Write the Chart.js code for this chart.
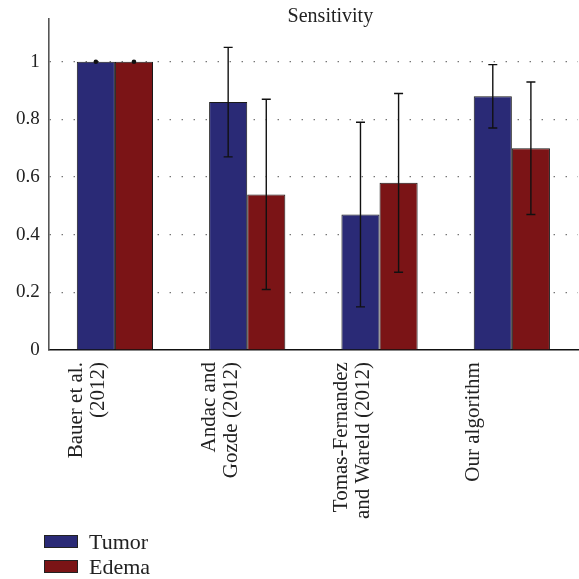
<!DOCTYPE html>
<html>
<head>
<meta charset="utf-8">
<script src="https://cdn.jsdelivr.net/npm/chart.js@4/dist/chart.umd.min.js"></script>
<style>
  html, body { margin: 0; padding: 0; background: #fff; }
  #wrap { position: relative; width: 579px; height: 579px; }
  #legend { position: absolute; left: 44px; top: 529px; font-family: "Liberation Serif", serif; font-size: 22px; color: #222; }
  #legend div { display: flex; align-items: center; height: 25px; }
  #legend span.box { display: inline-block; width: 32px; height: 11px; border: 1px solid #222; margin-right: 11px; }
</style>
</head>
<body>
<div id="wrap">
  <canvas id="chart" width="579" height="579"></canvas>
  <div id="legend"></div>
</div>
<script>
// data
const categories = [
  ['Bauer et al.', '(2012)'],
  ['Andac and', 'Gozde (2012)'],
  ['Tomas-Fernandez', 'and Wareld (2012)'],
  'Our algorithm'
];
const tumor = [1.0, 0.86, 0.47, 0.88];
const tumorErr = [0, 0.19, 0.32, 0.11];
const edema = [1.0, 0.54, 0.58, 0.70];
const edemaErr = [0, 0.33, 0.31, 0.23];
const yTicks = [0, 0.2, 0.4, 0.6, 0.8, 1];

const serif = '"Liberation Serif", "DejaVu Serif", serif';

// error bars + title
const errorBars = {
  id: 'errorBars',
  afterDatasetsDraw(chart) {
    const ctx = chart.ctx;
    const y = chart.scales.y;
    chart.data.datasets.forEach((ds, i) => {
      const meta = chart.getDatasetMeta(i);
      meta.data.forEach((bar, j) => {
        const v = ds.data[j];
        const e = ds.errors[j];
        ctx.save();
        ctx.strokeStyle = '#111';
        ctx.fillStyle = '#111';
        ctx.lineWidth = 1.4;
        if (e === 0) {
          ctx.beginPath();
          ctx.arc(bar.x, y.getPixelForValue(v), 2.3, 0, Math.PI * 2);
          ctx.fill();
        } else {
          const top = y.getPixelForValue(v + e);
          const bot = y.getPixelForValue(v - e);
          ctx.beginPath();
          ctx.moveTo(bar.x, top);
          ctx.lineTo(bar.x, bot);
          ctx.moveTo(bar.x - 4.5, top);
          ctx.lineTo(bar.x + 4.5, top);
          ctx.moveTo(bar.x - 4.5, bot);
          ctx.lineTo(bar.x + 4.5, bot);
          ctx.stroke();
        }
        ctx.restore();
      });
    });
  },
  afterDraw(chart) {
    const ctx = chart.ctx;
    const a = chart.chartArea;
    ctx.save();
    ctx.font = '20px ' + serif;
    ctx.fillStyle = '#222';
    ctx.textAlign = 'center';
    ctx.textBaseline = 'alphabetic';
    ctx.fillText('Sensitivity', (a.left + a.right) / 2 + 17, 22);
    ctx.restore();
  }
};

const chart = new Chart(document.getElementById('chart'), {
  type: 'bar',
  data: {
    labels: categories,
    datasets: [
      { label: 'Tumor', data: tumor, errors: tumorErr, backgroundColor: '#2a2a76', borderColor: '#1a1a1a', borderWidth: 1 },
      { label: 'Edema', data: edema, errors: edemaErr, backgroundColor: '#7b1416', borderColor: '#1a1a1a', borderWidth: 1 }
    ]
  },
  options: {
    responsive: false,
    animation: false,
    categoryPercentage: 0.576,
    barPercentage: 1,
    layout: { padding: { top: 17, right: 1, left: 7, bottom: 48 } },
    plugins: { legend: { display: false }, title: { display: false }, tooltip: { enabled: false } },
    scales: {
      x: {
        grid: { display: false, drawTicks: false },
        border: { color: '#111', width: 1.6 },
        ticks: {
          color: '#222',
          font: { family: serif, size: 21, lineHeight: 1.05 },
          minRotation: 90,
          maxRotation: 90,
          padding: 12,
          labelOffset: -38,
          autoSkip: false
        }
      },
      y: {
        min: 0,
        max: 1.15,
        afterBuildTicks(scale) { scale.ticks = yTicks.map(v => ({ value: v })); },
        grid: {
          color: (c) => c.tick.value === 0 ? 'rgba(0,0,0,0)' : '#666',
          lineWidth: 1.3,
          drawTicks: false
        },
        border: { color: '#555', width: 1.6, dash: [1.3, 10.7], display: true },
        ticks: {
          color: '#222',
          font: { family: serif, size: 19, lineHeight: 1 },
          padding: 9,
          callback: (v) => String(v)
        }
      }
    }
  },
  plugins: [errorBars]
});

// legend
const legend = document.getElementById('legend');
chart.data.datasets.forEach(ds => {
  const row = document.createElement('div');
  const box = document.createElement('span');
  box.className = 'box';
  box.style.background = ds.backgroundColor;
  row.appendChild(box);
  row.appendChild(document.createTextNode(ds.label));
  legend.appendChild(row);
});
</script>
</body>
</html>
